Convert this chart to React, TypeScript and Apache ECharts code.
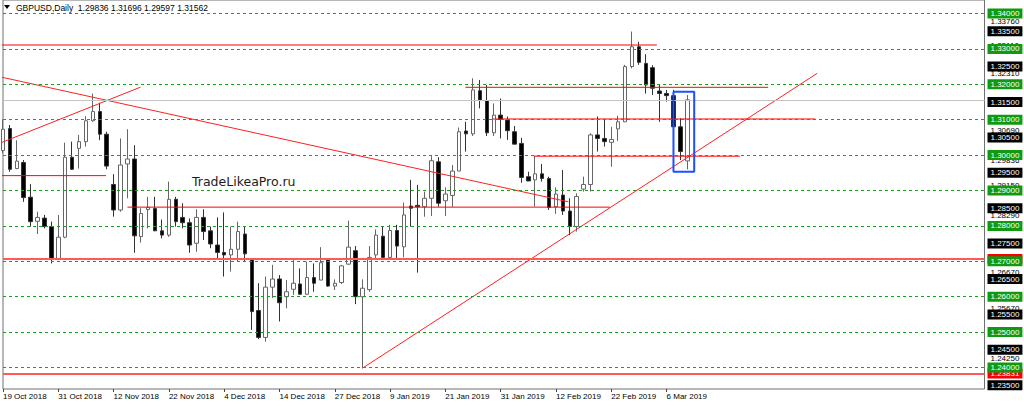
import React, { useEffect, useRef } from 'react';
import * as echarts from 'echarts';

// ---------- data ----------
const symbolName = 'GBPUSD';
const periodName = 'Daily';
const watermark = 'TradeLikeaPro.ru';

const tickLabels = [
  '19 Oct 2018', '31 Oct 2018', '12 Nov 2018', '22 Nov 2018', '4 Dec 2018', '14 Dec 2018',
  '27 Dec 2018', '9 Jan 2019', '21 Jan 2019', '31 Jan 2019', '12 Feb 2019', '22 Feb 2019', '6 Mar 2019',
];
const BARS_PER_LABEL = 8;
const SLOT_COUNT = 143; // bar slots visible across the chart (data + empty right shift)

const opens = [
  1.3013, 1.3075, 1.2962, 1.2979, 1.2881, 1.2813, 1.2822, 1.2798, 1.2708, 1.2768,
  1.2994, 1.3019, 1.3038, 1.3097, 1.3123, 1.3059, 1.2917, 1.2845, 1.2975, 1.2989,
  1.2770, 1.2846, 1.2849, 1.2786, 1.2774, 1.2875, 1.2824, 1.2809, 1.2751, 1.2824,
  1.2786, 1.2746, 1.2725, 1.2718, 1.2734, 1.2777, 1.2706, 1.2561, 1.2485, 1.2627,
  1.2650, 1.2600, 1.2621, 1.2636, 1.2607, 1.2654, 1.2647, 1.2706, 1.2630, 1.2640,
  1.2692, 1.2730, 1.2600, 1.2620, 1.2718, 1.2771, 1.2711, 1.2787, 1.2741, 1.2856,
  1.2858, 1.2854, 1.2878, 1.2981, 1.2871, 1.2886, 1.2955, 1.3068, 1.3060, 1.3182,
  1.3154, 1.3063, 1.3113, 1.3099, 1.3066, 1.3033, 1.2939, 1.2930, 1.2947, 1.2934,
  1.2854, 1.2887, 1.2842, 1.2798, 1.2904, 1.2917, 1.3057, 1.3047, 1.3036, 1.3074,
  1.3094, 1.3250, 1.3306, 1.3259, 1.3247, 1.3181, 1.3174, 1.3168, 1.3080, 1.29836,
];
const closes = [
  1.3073, 1.2960, 1.2983, 1.2880, 1.2812, 1.2824, 1.2798, 1.2706, 1.2768, 1.2994,
  1.2960, 1.3038, 1.3097, 1.3123, 1.3059, 1.2969, 1.2845, 1.2972, 1.2989, 1.2772,
  1.2835, 1.2852, 1.2786, 1.2774, 1.2875, 1.2812, 1.2809, 1.2746, 1.2824, 1.2784,
  1.2749, 1.2725, 1.2718, 1.2734, 1.2784, 1.2721, 1.2558, 1.2485, 1.2627, 1.2650,
  1.2583, 1.2614, 1.2638, 1.2607, 1.2654, 1.2638, 1.2696, 1.2630, 1.2638, 1.2687,
  1.2740, 1.2600, 1.2624, 1.2711, 1.2774, 1.2711, 1.2787, 1.2743, 1.2831, 1.2850,
  1.2854, 1.2878, 1.2984, 1.2864, 1.2890, 1.2955, 1.3066, 1.3060, 1.3184, 1.3156,
  1.3063, 1.3113, 1.3101, 1.3069, 1.3031, 1.2937, 1.2927, 1.2947, 1.2934, 1.2852,
  1.2890, 1.2842, 1.2798, 1.2883, 1.2917, 1.3057, 1.3047, 1.3038, 1.3044, 1.3094,
  1.3250, 1.3306, 1.3262, 1.3198, 1.3189, 1.3174, 1.3168, 1.3080, 1.3010, 1.31562,
];
const lows = [
  1.3005, 1.2953, 1.2960, 1.2868, 1.2798, 1.2777, 1.2793, 1.2694, 1.2703, 1.2765,
  1.2958, 1.2962, 1.3024, 1.3094, 1.3042, 1.2960, 1.2826, 1.2840, 1.2878, 1.2724,
  1.2753, 1.2793, 1.2786, 1.2765, 1.2769, 1.2798, 1.2793, 1.2724, 1.2727, 1.2760,
  1.2737, 1.2704, 1.2657, 1.2671, 1.2699, 1.2699, 1.2506, 1.2480, 1.2473, 1.2596,
  1.2530, 1.2567, 1.2605, 1.2605, 1.2605, 1.2614, 1.2647, 1.2628, 1.2619, 1.2636,
  1.2690, 1.2579, 1.2398, 1.2614, 1.2709, 1.2705, 1.2704, 1.2709, 1.2711, 1.2798,
  1.2668, 1.2826, 1.2828, 1.2854, 1.2828, 1.2854, 1.2955, 1.3010, 1.3054, 1.3132,
  1.3054, 1.3054, 1.3047, 1.3043, 1.3031, 1.2922, 1.2927, 1.2855, 1.2925, 1.2845,
  1.2834, 1.2831, 1.2774, 1.2784, 1.2897, 1.2897, 1.3010, 1.3024, 1.2967, 1.3040,
  1.3094, 1.3245, 1.3255, 1.3174, 1.3170, 1.3094, 1.3151, 1.3073, 1.2986, 1.29597,
];
const highs = [
  1.3101, 1.3085, 1.3042, 1.2986, 1.2918, 1.2840, 1.2831, 1.2812, 1.2831, 1.3035,
  1.3038, 1.3057, 1.3110, 1.3174, 1.3148, 1.3066, 1.2946, 1.3047, 1.3073, 1.3028,
  1.2850, 1.2882, 1.2882, 1.2818, 1.2925, 1.2882, 1.2864, 1.2821, 1.2847, 1.2847,
  1.2798, 1.2824, 1.2838, 1.2798, 1.2812, 1.2798, 1.2706, 1.2638, 1.2657, 1.2690,
  1.2661, 1.2647, 1.2704, 1.2680, 1.2699, 1.2694, 1.2740, 1.2706, 1.2649, 1.2690,
  1.2815, 1.2743, 1.2649, 1.2743, 1.2790, 1.2798, 1.2803, 1.2803, 1.2866, 1.2930,
  1.2916, 1.2897, 1.2997, 1.2994, 1.2909, 1.2972, 1.3078, 1.3094, 1.3217, 1.3212,
  1.3198, 1.3146, 1.3160, 1.3109, 1.3082, 1.3049, 1.2953, 1.2997, 1.2975, 1.2939,
  1.2909, 1.2958, 1.2878, 1.2892, 1.2939, 1.3062, 1.3109, 1.3099, 1.3080, 1.3111,
  1.3255, 1.3349, 1.3320, 1.3285, 1.3254, 1.3198, 1.3184, 1.3184, 1.3104, 1.31696,
];

// horizontal price levels
const roundLevels = [1.24, 1.25, 1.26, 1.27, 1.28, 1.29, 1.30, 1.31, 1.32, 1.33, 1.34];
const halfLevels = [1.235, 1.245, 1.255, 1.265, 1.275, 1.285, 1.295, 1.305, 1.315, 1.325, 1.335];
const noteLevels = [1.3376, 1.3311, 1.3231, 1.3069, 1.29836, 1.2915, 1.2829, 1.2667, 1.2567, 1.2425];
const redLevels = [1.27062, 1.23831];
const bidPrice = 1.31562;

// drawn objects, in [bar index, price]
const trendLines: [number, number][][] = [
  [[-0.4, 1.3221], [81.8, 1.2868]],
  [[-0.4, 1.3034], [19.9, 1.3192]],
  [[52.0, 1.2398], [117.8, 1.3231]],
];
const levelSegments: [number, number, number][] = [
  // [price, fromBar, toBar]
  [1.3311, -0.4, 94.6],
  [1.31915, 66.9, 110.7],
  [1.3102, 70.9, 117.5],
  [1.2997, 76.8, 106.6],
  [1.2853, 18.0, 87.8],
  [1.2942, -0.4, 14.9],
];
const boxBars = [97, 100];
const boxPrices = [1.3179, 1.2953];

// ---------- layout ----------
const Y_MAX = 1.343814;
const Y_MIN = 1.233927;
const FONT = 'Liberation Sans, Arial, sans-serif';

const candles = opens.map((o, i) => [o, closes[i], lows[i], highs[i]]);
const categories = Array.from({ length: SLOT_COUNT }, (_, i) => String(i));
const showTick = (i: number) => i % BARS_PER_LABEL === 0 && i / BARS_PER_LABEL < tickLabels.length;
const last = opens.length - 1;
const title = `${symbolName},${periodName}  ${opens[last].toFixed(5)} ${highs[last].toFixed(5)} ${lows[last].toFixed(5)} ${closes[last].toFixed(5)}`;

const axisLabelStyle = (bg: string, fg: string) => ({
  show: true,
  position: 'end',
  distance: 3,
  formatter: (p: any) => Number(p.value).toFixed(5),
  color: fg,
  backgroundColor: bg,
  padding: [1, 3, 1, 3],
  fontSize: 8,
  lineHeight: 8,
  fontFamily: FONT,
});

const hidden = { color: 'transparent', width: 0 };

function buildOption(): any {
  const series: any[] = [];

  // green dashed level lines + bid line (behind candles)
  series.push({
    type: 'line', data: [], z: 1, silent: true,
    markLine: {
      silent: true, symbol: ['none', 'none'], precision: 5,
      label: { show: false },
      lineStyle: { color: '#19a319', type: [3, 3], width: 1 },
      data: [
        ...roundLevels.map((v) => ({ yAxis: v })),
        { yAxis: bidPrice, lineStyle: { color: '#c4c4c4', type: 'solid', width: 1 } },
      ],
    },
  });

  series.push({
    type: 'candlestick', data: candles, z: 2, barWidth: 4, silent: true,
    itemStyle: { color: '#ffffff', color0: '#000000', borderColor: '#666666', borderColor0: '#333333', borderWidth: 1 },
  });

  // full width red levels
  series.push({
    type: 'line', data: [], z: 3, silent: true,
    markLine: {
      silent: true, symbol: ['none', 'none'], precision: 5, label: { show: false },
      lineStyle: { color: '#ff5a5a', type: 'solid', width: 2 },
      data: redLevels.map((v) => ({ yAxis: v })),
    },
  });

  trendLines.forEach((seg) => {
    series.push({
      type: 'line', xAxisIndex: 1, data: seg, z: 3, silent: true, symbol: 'none', showSymbol: false,
      lineStyle: { color: '#ff2020', width: 1 },
    });
  });
  levelSegments.forEach(([p, a, b]) => {
    series.push({
      type: 'line', xAxisIndex: 1, data: [[a, p], [b, p]], z: 3, silent: true, symbol: 'none', showSymbol: false,
      lineStyle: { color: '#ff0000', width: 1 },
    });
  });

  // blue highlight box
  series.push({
    type: 'line', xAxisIndex: 1, z: 6, silent: true, symbol: 'none', showSymbol: false,
    data: [
      [boxBars[0], boxPrices[0]], [boxBars[1], boxPrices[0]], [boxBars[1], boxPrices[1]],
      [boxBars[0], boxPrices[1]], [boxBars[0], boxPrices[0]],
    ],
    lineStyle: { color: '#1e50ff', width: 2 },
  });

  // object price labels on the scale (under the axis labels)
  series.push({
    type: 'line', data: [], z: 4, silent: true,
    markLine: {
      silent: true, symbol: ['none', 'none'], precision: 5, lineStyle: hidden,
      label: axisLabelStyle('#ffffff', '#000000'),
      data: [
        ...noteLevels.map((v) => ({ yAxis: v })),
        ...redLevels.map((v) => ({ yAxis: v, label: axisLabelStyle('#ff0000', '#ffffff') })),
      ],
    },
  });

  // scale labels
  series.push({
    type: 'line', data: [], z: 5, silent: true,
    markLine: {
      silent: true, symbol: ['none', 'none'], precision: 5, lineStyle: hidden,
      label: axisLabelStyle('#000000', '#ffffff'),
      data: [
        ...halfLevels.map((v) => ({ yAxis: v })),
        ...roundLevels.map((v) => ({ yAxis: v, label: axisLabelStyle('#119a11', '#ffffff') })),
      ],
    },
  });

  return {
    animation: false,
    backgroundColor: '#ffffff',
    grid: {
      left: 2.7, right: 39.5, top: 0, bottom: 18,
      show: true, borderColor: '#707070', borderWidth: 1, backgroundColor: 'transparent',
    },
    xAxis: [
      {
        type: 'category', data: categories, boundaryGap: false,
        axisLine: { show: false },
        axisTick: { show: true, interval: (i: number) => showTick(i), length: 3, lineStyle: { color: '#444' } },
        axisLabel: {
          interval: (i: number) => showTick(i),
          formatter: (v: string) => tickLabels[Number(v) / BARS_PER_LABEL] ?? '',
          align: 'left', margin: 3, fontSize: 8, fontFamily: FONT, color: '#000',
        },
        splitLine: { show: false },
      },
      { type: 'value', min: 0, max: SLOT_COUNT - 1, show: false },
    ],
    yAxis: {
      type: 'value', position: 'right', min: Y_MIN, max: Y_MAX, scale: true,
      axisLine: { show: false }, axisTick: { show: false }, axisLabel: { show: false }, splitLine: { show: false },
    },
    graphic: [
      { type: 'polygon', shape: { points: [[4, 5], [10, 5], [7, 9]] }, style: { fill: '#000' }, z: 10 },
      {
        type: 'text', x: 16, y: 7.5, z: 10,
        style: { text: title, fontSize: 8.5, fontFamily: FONT, fill: '#000', verticalAlign: 'middle' },
      },
      {
        type: 'text', x: 192, y: 181, z: 10,
        style: { text: watermark, fontSize: 12.5, fontFamily: 'DejaVu Sans, sans-serif', fill: '#1c1c1c', verticalAlign: 'middle' },
      },
    ],
    series,
  };
}

export default function App() {
  const ref = useRef<HTMLDivElement>(null);
  useEffect(() => {
    const chart = echarts.init(ref.current as HTMLDivElement, undefined, { renderer: 'svg' });
    chart.setOption(buildOption());
    return () => chart.dispose();
  }, []);
  return <div ref={ref} style={{ position: 'fixed', left: 0, top: 0, width: 1024, height: 407 }} />;
}
